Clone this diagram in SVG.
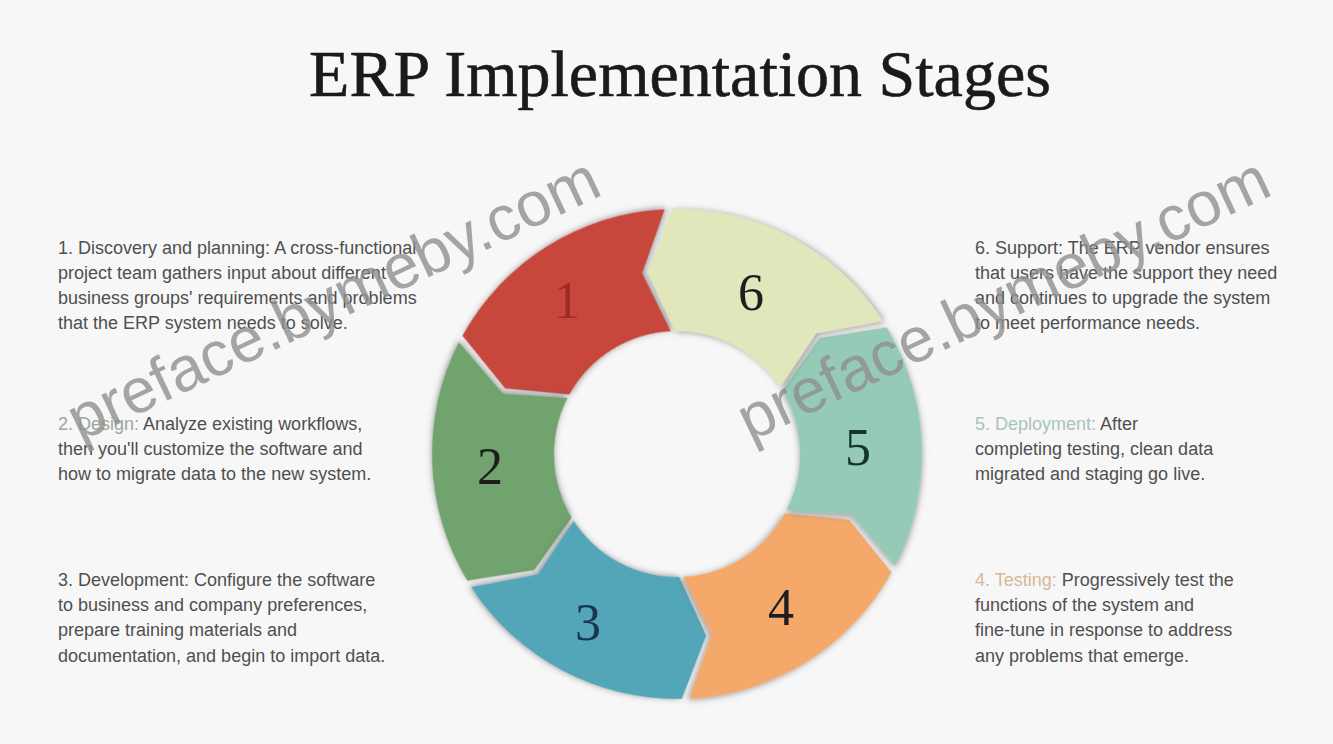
<svg xmlns="http://www.w3.org/2000/svg" xmlns:xlink="http://www.w3.org/1999/xlink" width="1333" height="744" viewBox="0 0 1333 744">
  <style>
    .title { font-family: "Liberation Serif", "DejaVu Serif", serif; font-size: 66px; fill: #1a1a1a; text-anchor: middle; stroke: #1a1a1a; stroke-width: 0.6px; }
    .num { font-family: "Liberation Serif", "DejaVu Serif", serif; font-size: 52px; fill: #1e1e1e; text-anchor: middle; }
    .desc { font-family: "Liberation Sans", Arial, sans-serif; font-size: 18px; fill: #4f4f4f; }
    .wm { font-family: "Liberation Sans", Arial, sans-serif; font-size: 63px; fill: #8e8e8e; fill-opacity: 0.8; }
    .seg { stroke: none; filter: url(#sh); }
  </style>
  <defs>
    <filter id="sh" x="-30%" y="-30%" width="160%" height="160%">
      <feDropShadow dx="-1" dy="2" stdDeviation="3" flood-color="#555555" flood-opacity="0.6"/>
    </filter>
    <path id="seg" d="M244.97 3.85 A245 245 0 0 1 125.80 210.24 L115.54 143.20 L63.16 105.55 A123 123 0 0 0 122.98 1.93 L182.59 -22.74 Z"/>
  </defs>

  <rect x="0" y="0" width="1333" height="744" fill="#f7f7f7"/>

  <text class="title" x="680" y="96">ERP Implementation Stages</text>

  <g id="connectors"></g>

  <g id="stage1">
    <use xlink:href="#seg" href="#seg" class="seg" fill="#c8473e" transform="translate(677 454) rotate(208)"/>
    <text class="num" x="567" y="318" style="fill:#9e2b25">1</text>
  </g>
  <g id="stage2">
    <use xlink:href="#seg" href="#seg" class="seg" fill="#70a36d" transform="translate(677 454) rotate(148)"/>
    <text class="num" x="490" y="484">2</text>
  </g>
  <g id="stage3">
    <use xlink:href="#seg" href="#seg" class="seg" fill="#53a6b8" transform="translate(677 454) rotate(88)"/>
    <text class="num" x="588" y="640" style="fill:#1d3550">3</text>
  </g>
  <g id="stage4">
    <use xlink:href="#seg" href="#seg" class="seg" fill="#f4a96a" transform="translate(677 454) rotate(28)"/>
    <text class="num" x="781" y="625">4</text>
  </g>
  <g id="stage5">
    <use xlink:href="#seg" href="#seg" class="seg" fill="#95cbb6" transform="translate(677 454) rotate(-32)"/>
    <text class="num" x="858" y="465" style="fill:#15352c">5</text>
  </g>
  <g id="stage6">
    <use xlink:href="#seg" href="#seg" class="seg" fill="#e2e6bb" transform="translate(677 454) rotate(-92)"/>
    <text class="num" x="751" y="310">6</text>
  </g>

  <g id="desc1">
    <text class="desc" x="58" y="254">1. Discovery and planning: A cross-functional</text>
    <text class="desc" x="58" y="279">project team gathers input about different</text>
    <text class="desc" x="58" y="304">business groups' requirements and problems</text>
    <text class="desc" x="58" y="329">that the ERP system needs to solve.</text>
  </g>
  <g id="desc2">
    <text class="desc" x="58" y="430"><tspan fill="#9aa79a">2. Design:</tspan> Analyze existing workflows,</text>
    <text class="desc" x="58" y="455">then you'll customize the software and</text>
    <text class="desc" x="58" y="480">how to migrate data to the new system.</text>
  </g>
  <g id="desc3">
    <text class="desc" x="58" y="586">3. Development: Configure the software</text>
    <text class="desc" x="58" y="611">to business and company preferences,</text>
    <text class="desc" x="58" y="636">prepare training materials and</text>
    <text class="desc" x="58" y="662">documentation, and begin to import data.</text>
  </g>
  <g id="desc6">
    <text class="desc" x="975" y="254">6. Support: The ERP vendor ensures</text>
    <text class="desc" x="975" y="279">that users have the support they need</text>
    <text class="desc" x="975" y="304">and continues to upgrade the system</text>
    <text class="desc" x="975" y="329">to meet performance needs.</text>
  </g>
  <g id="desc5">
    <text class="desc" x="975" y="430"><tspan fill="#a9c4ba">5. Deployment:</tspan> After</text>
    <text class="desc" x="975" y="455">completing testing, clean data</text>
    <text class="desc" x="975" y="480">migrated and staging go live.</text>
  </g>
  <g id="desc4">
    <text class="desc" x="975" y="586"><tspan fill="#d9b796">4. Testing:</tspan> Progressively test the</text>
    <text class="desc" x="975" y="611">functions of the system and</text>
    <text class="desc" x="975" y="636">fine-tune in response to address</text>
    <text class="desc" x="975" y="662">any problems that emerge.</text>
  </g>

  <g id="watermark">
    <text class="wm" x="0" y="0" transform="translate(80 442) rotate(-25.3)">preface.bymeby.com</text>
    <text class="wm" x="0" y="0" transform="translate(750 442) rotate(-25.3)">preface.bymeby.com</text>
  </g>
</svg>
